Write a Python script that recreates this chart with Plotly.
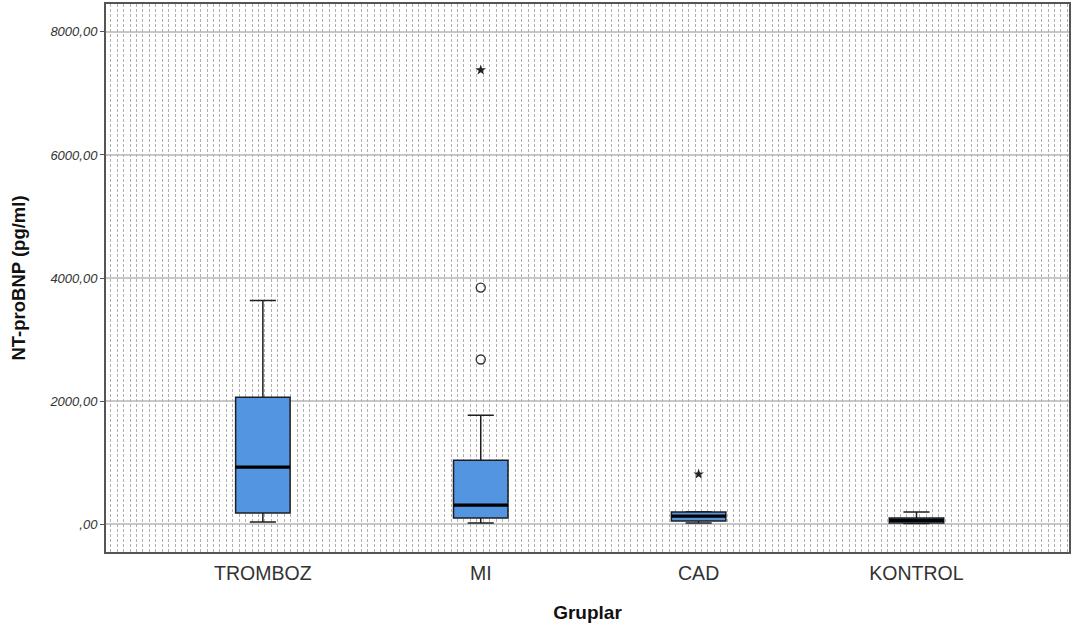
import plotly.graph_objects as go

groups = ["TROMBOZ", "MI", "CAD", "KONTROL"]
q1 = [178, 97, 49, 16]
median = [925, 308, 130, 60]
q3 = [2060, 1038, 195, 97]
lower_whisker = [32, 16, 16, 8]
upper_whisker = [3633, 1768, 200, 195]

circle_x = ["MI", "MI"]
circle_y = [3844, 2676]
star_x = ["MI", "CAD"]
star_y = [7380, 811]

ytick_vals = [0, 2000, 4000, 6000, 8000]
ytick_text = [",00", "2000,00", "4000,00", "6000,00", "8000,00"]

fig = go.Figure()

# dotted background axis
fig.add_trace(go.Scatter(x=[], y=[], xaxis="x2", yaxis="y", showlegend=False, hoverinfo="skip"))

fig.add_trace(go.Box(
    x=groups, q1=q1, median=median, q3=q3,
    lowerfence=lower_whisker, upperfence=upper_whisker,
    fillcolor="#5495e2", line=dict(color="#1e1e1e", width=1.5),
    width=0.25, whiskerwidth=0.48, boxpoints=False, showlegend=False,
))
# thick median lines
fig.add_trace(go.Box(
    x=groups, q1=median, median=median, q3=median,
    lowerfence=median, upperfence=median,
    fillcolor="rgba(0,0,0,0)", line=dict(color="#000000", width=3.2),
    width=0.25, whiskerwidth=0, boxpoints=False, showlegend=False,
))
fig.add_trace(go.Scatter(
    x=circle_x, y=circle_y, mode="markers", showlegend=False,
    marker=dict(symbol="circle-open", size=9, color="#333333", line=dict(width=1.4, color="#333333")),
))
fig.add_trace(go.Scatter(
    x=star_x, y=star_y, mode="markers", showlegend=False,
    marker=dict(symbol="star", size=8, color="#222222"),
))

fig.update_layout(
    width=1074, height=630,
    margin=dict(l=106, r=5, t=4, b=78),
    paper_bgcolor="white", plot_bgcolor="white",
    boxmode="overlay",
    font=dict(family="Liberation Sans, Arial, sans-serif", color="#222222"),
    xaxis=dict(
        type="category", categoryorder="array", categoryarray=groups,
        range=[-0.72, 3.70], showgrid=False, zeroline=False, automargin=False,
        showline=True, linecolor="#555555", linewidth=2, mirror=True,
        ticks="", tickfont=dict(size=19.5, color="#333333"), ticklabelstandoff=3,
        title=dict(text="<b>Gruplar</b>", font=dict(size=19, color="#111111"), standoff=22),
    ),
    xaxis2=dict(
        overlaying="x", type="linear", range=[0, 1], side="top",
        showgrid=True, gridcolor="#b0b0b0", griddash="3px,2px", gridwidth=1,
        dtick=1/150, tick0=0.005, showticklabels=False, ticks="",
        zeroline=False, showline=False, layer="below traces", automargin=False,
    ),
    yaxis=dict(
        range=[-454, 8454], tickvals=ytick_vals, ticktext=ytick_text,
        showgrid=True, gridcolor="#c8c8c8", gridwidth=1.5, zeroline=False,
        showline=True, linecolor="#555555", linewidth=2, mirror=True,
        ticks="outside", ticklen=4, tickcolor="#555555", automargin=False,
        tickfont=dict(size=13, color="#333333", style="italic"),
        title=dict(text="<b>NT-proBNP (pg/ml)</b>", font=dict(size=18.5, color="#111111"), standoff=19),
    ),
)

fig.write_html(
    "out.html",
    config={"displayModeBar": False},
    post_script="document.body.style.margin='0';document.body.style.padding='0';",
)
